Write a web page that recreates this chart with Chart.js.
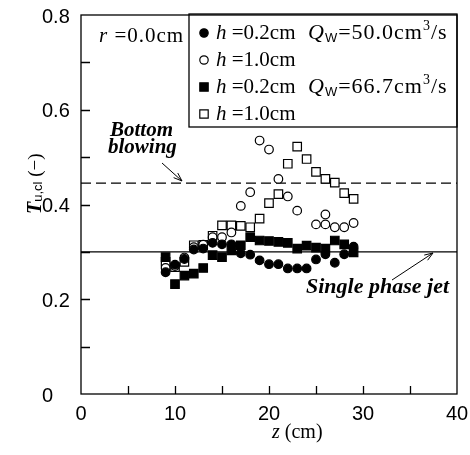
<!DOCTYPE html>
<html>
<head>
<meta charset="utf-8">
<script src="https://cdn.jsdelivr.net/npm/chart.js@4"></script>
<style>
  html, body { margin: 0; padding: 0; background: #fff; }
</style>
</head>
<body>
<canvas id="chart" width="470" height="455"></canvas>
<script>
// data (z in cm, T_u,cl dimensionless)
const zFilledCircle = [9, 10, 11, 12, 13, 14, 15, 16, 17, 18, 19, 20, 21, 22, 23, 24, 25, 26, 27, 28, 29];
const tFilledCircle = [0.257, 0.273, 0.285, 0.305, 0.307, 0.319, 0.316, 0.316, 0.297, 0.294, 0.282, 0.274, 0.274, 0.265, 0.265, 0.265, 0.284, 0.295, 0.277, 0.295, 0.311];

const zOpenCircle = [9, 10, 11, 12, 13, 14, 15, 16, 17, 18, 19, 20, 21, 22, 23, 25, 26, 26, 27, 28, 29];
const tOpenCircle = [0.266, 0.27, 0.288, 0.31, 0.315, 0.331, 0.331, 0.341, 0.397, 0.426, 0.535, 0.516, 0.454, 0.417, 0.387, 0.358, 0.379, 0.358, 0.352, 0.352, 0.361];

const zFilledSquare = [9, 10, 11, 12, 13, 14, 15, 16, 17, 18, 19, 20, 21, 22, 23, 24, 25, 26, 27, 28, 29];
const tFilledSquare = [0.289, 0.232, 0.25, 0.254, 0.266, 0.293, 0.289, 0.303, 0.314, 0.331, 0.324, 0.323, 0.321, 0.319, 0.307, 0.313, 0.309, 0.307, 0.324, 0.316, 0.299];

const zOpenSquare = [9, 10, 11, 12, 13, 14, 15, 16, 17, 18, 19, 20, 21, 22, 23, 24, 25, 26, 27, 28, 29];
const tOpenSquare = [0.279, 0.268, 0.279, 0.314, 0.315, 0.334, 0.356, 0.356, 0.355, 0.352, 0.37, 0.403, 0.422, 0.486, 0.522, 0.496, 0.469, 0.454, 0.446, 0.424, 0.412];

const zRange = [0, 40];
const bottomBlowing = 0.445;
const singlePhaseJet = 0.30;

const xTickLabels = [0, 10, 20, 30, 40];
const yTickLabels = ["0", "0.2", "0.4", "0.6", "0.8"];

function pts(xs, ys) {
  return xs.map((x, i) => ({ x: x, y: ys[i] }));
}

const SERIF = '"Liberation Serif", "Times New Roman", serif';
const SANS = '"Liberation Sans", Arial, sans-serif';

// draw a run of text pieces: [text, font, dy]
function textRun(ctx, x, y, parts) {
  parts.forEach(p => {
    ctx.font = p[1];
    ctx.fillText(p[0], x, y + (p[2] || 0));
    x += ctx.measureText(p[0]).width;
  });
  return x;
}

function marker(ctx, kind, x, y) {
  ctx.save();
  ctx.lineWidth = 1.2;
  ctx.strokeStyle = "#000";
  ctx.fillStyle = "#000";
  ctx.beginPath();
  if (kind === "circle" || kind === "ocircle") {
    ctx.arc(x, y, 4.2, 0, Math.PI * 2);
  } else {
    ctx.rect(x - 4.2, y - 4.2, 8.4, 8.4);
  }
  if (kind === "circle" || kind === "square") ctx.fill();
  ctx.stroke();
  ctx.restore();
}

function arrow(ctx, x1, y1, x2, y2) {
  const a = Math.atan2(y2 - y1, x2 - x1);
  ctx.beginPath();
  ctx.moveTo(x1, y1);
  ctx.lineTo(x2, y2);
  ctx.moveTo(x2 - 9 * Math.cos(a - 0.35), y2 - 9 * Math.sin(a - 0.35));
  ctx.lineTo(x2, y2);
  ctx.lineTo(x2 - 9 * Math.cos(a + 0.35), y2 - 9 * Math.sin(a + 0.35));
  ctx.stroke();
}

// frame, inward ticks, notes, legend box and axis titles
const decor = {
  id: "decor",
  beforeDatasetsDraw(chart) {
    const ctx = chart.ctx;
    const a = chart.chartArea;
    const xs = chart.scales.x, ys = chart.scales.y;
    ctx.save();
    ctx.strokeStyle = "#000";
    ctx.lineWidth = 1.3;
    ctx.strokeRect(a.left, a.top, a.right - a.left, a.bottom - a.top);
    ctx.beginPath();
    for (let v = 5; v < 40; v += 5) {
      const px = Math.round(xs.getPixelForValue(v)) + 0.5;
      ctx.moveTo(px, a.bottom);
      ctx.lineTo(px, a.bottom - 8);
    }
    for (let i = 1; i < 8; i++) {
      const py = Math.round(ys.getPixelForValue(i / 10)) + 0.5;
      ctx.moveTo(a.left, py);
      ctx.lineTo(a.left + 9, py);
    }
    ctx.stroke();
    ctx.restore();
  },
  afterDraw(chart) {
    const ctx = chart.ctx;
    ctx.save();
    ctx.fillStyle = "#000";
    ctx.strokeStyle = "#000";
    ctx.lineWidth = 1;
    ctx.textBaseline = "alphabetic";

    // r label
    ctx.letterSpacing = "1px";
    textRun(ctx, 99, 42, [["r", "italic 21px " + SERIF], [" =0.0cm", "21px " + SERIF]]);

    // legend box
    ctx.lineWidth = 1.3;
    ctx.strokeRect(189, 14, 268, 113);
    const rows = [
      ["circle", "0.2", "50.0"],
      ["ocircle", "1.0", null],
      ["square", "0.2", "66.7"],
      ["osquare", "1.0", null]
    ];
    rows.forEach((r, i) => {
      const cy = 33 + i * 27;
      marker(ctx, r[0], 204, cy);
      const base = cy + 6;
      ctx.letterSpacing = "0px";
      textRun(ctx, 216, base, [["h", "italic 21px " + SERIF], [" =" + r[1] + "cm", "21px " + SERIF]]);
      if (r[2]) {
        ctx.letterSpacing = "1px";
        textRun(ctx, 308, base, [
          ["Q", "italic 22px " + SERIF],
          ["W", "13px " + SANS, 3],
          ["=" + r[2] + "cm", "22px " + SERIF],
          ["3", "14px " + SERIF, -9],
          ["/s", "22px " + SERIF]
        ]);
      }
    });
    ctx.letterSpacing = "0px";

    // reference-line notes
    ctx.font = "bold italic 21px " + SERIF;
    ctx.fillText("Bottom", 110, 136);
    ctx.fillText("blowing", 108, 153);
    ctx.font = "bold italic 22px " + SERIF;
    ctx.fillText("Single phase jet", 306, 293);
    ctx.lineWidth = 1;
    arrow(ctx, 162, 163, 182, 181);
    arrow(ctx, 392, 280, 433, 253);

    // axis titles
    ctx.textAlign = "left";
    textRun(ctx, 272, 438, [["z", "italic 20px " + SERIF], [" (cm)", "20px " + SERIF]]);

    ctx.translate(41, 214);
    ctx.rotate(-Math.PI / 2);
    textRun(ctx, 0, 0, [
      ["T", "bold italic 20px " + SERIF],
      ["u,cl", "13px " + SANS, 1],
      [" (\u2212)", "19px " + SERIF]
    ]);
    ctx.restore();
  }
};

const scatterStyle = (style, filled) => ({
  showLine: false,
  pointStyle: style,
  pointRadius: style === "rect" ? 6 : 4.3,
  pointHoverRadius: style === "rect" ? 6 : 4.3,
  pointBorderWidth: 1.2,
  pointBorderColor: "#000",
  pointBackgroundColor: filled ? "#000" : "#fff",
  borderColor: "#000"
});

const data = {
  datasets: [
    Object.assign({ label: "h=0.2cm Qw=50.0", data: pts(zFilledCircle, tFilledCircle) }, scatterStyle("circle", true)),
    Object.assign({ label: "h=1.0cm", data: pts(zOpenCircle, tOpenCircle) }, scatterStyle("circle", false)),
    Object.assign({ label: "h=0.2cm Qw=66.7", data: pts(zFilledSquare, tFilledSquare) }, scatterStyle("rect", true)),
    Object.assign({ label: "h=1.0cm ", data: pts(zOpenSquare, tOpenSquare) }, scatterStyle("rect", false)),
    {
      type: "line",
      label: "Bottom blowing",
      data: pts(zRange, [bottomBlowing, bottomBlowing]),
      borderColor: "#000",
      borderWidth: 1.3,
      borderDash: [10, 5],
      pointRadius: 0
    },
    {
      type: "line",
      label: "Single phase jet",
      data: pts(zRange, [singlePhaseJet, singlePhaseJet]),
      borderColor: "#000",
      borderWidth: 1.3,
      pointRadius: 0
    }
  ]
};

const config = {
  type: "scatter",
  data: data,
  options: {
    responsive: false,
    animation: false,
    devicePixelRatio: 1,
    layout: { padding: { left: 42, right: 13, top: 14, bottom: 0 } },
    plugins: {
      legend: { display: false },
      tooltip: { enabled: false }
    },
    scales: {
      x: {
        type: "linear",
        min: zRange[0],
        max: zRange[1],
        grid: { display: false },
        border: { display: false },
        ticks: {
          stepSize: 10,
          color: "#000",
          font: { family: SANS, size: 20 },
          padding: 0,
          maxRotation: 0,
          autoSkip: false,
          callback: (v) => xTickLabels.includes(v) ? String(v) : ""
        },
        afterFit: (s) => { s.height = 61; }
      },
      y: {
        min: 0,
        max: 0.8,
        grid: { display: false },
        border: { display: false },
        ticks: {
          stepSize: 0.2,
          color: "#000",
          crossAlign: "far",
          labelOffset: 2,
          font: { family: SANS, size: 20 },
          autoSkip: false,
          callback: (v) => yTickLabels[Math.round(v * 5)]
        },
        afterFit: (s) => { s.width = 39; }
      }
    }
  },
  plugins: [decor]
};

new Chart(document.getElementById("chart"), config);
</script>
</body>
</html>
